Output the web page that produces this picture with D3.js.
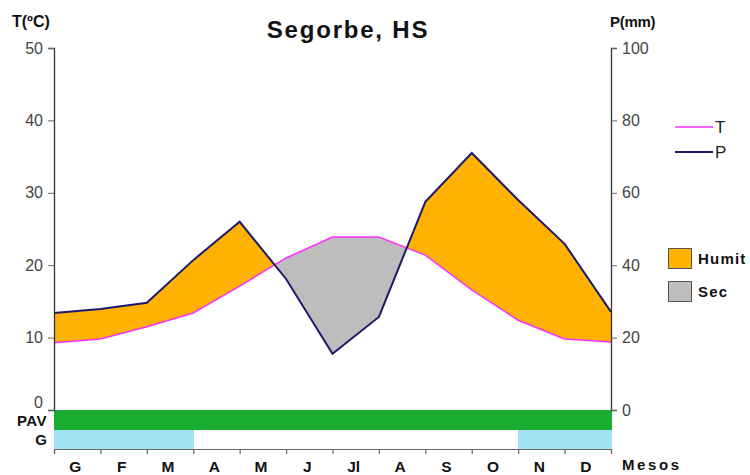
<!DOCTYPE html>
<html>
<head>
<meta charset="utf-8">
<script src="https://cdn.jsdelivr.net/npm/d3@7"></script>
<style>
  body { margin: 0; background: #fff; }
  svg { font-family: "Liberation Sans", Arial, sans-serif; }
</style>
</head>
<body>
<svg id="chart" width="750" height="475"></svg>
<script>
// ---- data ----
const months = ["G","F","M","A","M","J","Jl","A","S","O","N","D"];
// 13 points: Jan..Dec plus closing point at the right edge
const temperature = [9.3, 9.8, 11.5, 13.4, 17.1, 21.0, 23.9, 23.9, 21.4, 16.6, 12.4, 9.8, 9.4];
const precipitation = [26.8, 27.9, 29.6, 41.4, 52.0, 36.2, 15.5, 25.7, 57.5, 71.0, 58.0, 45.9, 27.1];
const tTicks = [0, 10, 20, 30, 40, 50];
const pTicks = [0, 20, 40, 60, 80, 100];
const frostMonths = [1, 1, 1, 0, 0, 0, 0, 0, 0, 0, 1, 1]; // G row (light blue)
const pavMonths = [1, 1, 1, 1, 1, 1, 1, 1, 1, 1, 1, 1];   // PAV row (green)

const svg = d3.select("#chart");
const L = 54, R = 611, TOP = 48, BOT = 410;

const xPt = d3.scaleLinear().domain([0, 12]).range([L, R]);
const xBand = d3.scaleBand().domain(d3.range(12)).range([L, R]).padding(0);
const yT = d3.scaleLinear().domain([0, 50]).range([BOT, TOP]);
const yP = d3.scaleLinear().domain([0, 100]).range([BOT, TOP]);

const pts = temperature.map((t, i) => ({ i, t, p: precipitation[i] }));

// clip paths
const defs = svg.append("defs");
defs.append("clipPath").attr("id", "aboveT").append("path")
  .attr("d", d3.area().x(d => xPt(d.i)).y0(d => yT(d.t)).y1(0)(pts));
defs.append("clipPath").attr("id", "belowT").append("path")
  .attr("d", d3.area().x(d => xPt(d.i)).y0(d => yT(d.t)).y1(475)(pts));

const between = d3.area().x(d => xPt(d.i)).y0(d => yT(d.t)).y1(d => yP(d.p));
svg.append("path").attr("d", between(pts)).attr("fill", "#FFB200").attr("clip-path", "url(#aboveT)");
svg.append("path").attr("d", between(pts)).attr("fill", "#BDBDBD").attr("clip-path", "url(#belowT)");

// lines
svg.append("path").attr("d", d3.line().x(d => xPt(d.i)).y(d => yT(d.t))(pts))
  .attr("fill", "none").attr("stroke", "#FF2EFF").attr("stroke-width", 1.5);
svg.append("path").attr("d", d3.line().x(d => xPt(d.i)).y(d => yP(d.p))(pts))
  .attr("fill", "none").attr("stroke", "#1C1A6B").attr("stroke-width", 2);

// PAV and G bars
svg.selectAll("rect.pav").data(pavMonths).enter().append("rect")
  .attr("x", (d, i) => xBand(i)).attr("width", xBand.bandwidth() + 1)
  .attr("y", 410).attr("height", 20).attr("shape-rendering", "crispEdges")
  .attr("fill", d => d ? "#18AD30" : "none");
svg.selectAll("rect.g").data(frostMonths).enter().append("rect")
  .attr("x", (d, i) => xBand(i)).attr("width", xBand.bandwidth() + 1)
  .attr("y", 430).attr("height", 19).attr("shape-rendering", "crispEdges")
  .attr("fill", d => d ? "#A2E1F2" : "none");

// axes
const axisColor = "#333";
const leftAxis = svg.append("g").attr("transform", `translate(${L},0)`)
  .call(d3.axisLeft(yT).tickValues(tTicks).tickSize(6).tickPadding(5));
const rightAxis = svg.append("g").attr("transform", `translate(${R},0)`)
  .call(d3.axisRight(yP).tickValues(pTicks).tickSize(6).tickPadding(5));
[leftAxis, rightAxis].forEach(a => {
  a.select(".domain").attr("stroke", axisColor).attr("stroke-width", 1.3);
  a.selectAll(".tick line").attr("stroke", "#666");
  a.selectAll("text").attr("font-size", 16).attr("fill", "#444")
    .attr("font-family", "Liberation Sans, Arial, sans-serif");
});
leftAxis.selectAll(".tick").filter(d => d === 0).select("text").attr("dy", "-0.15em");

// bottom axis
const bottom = svg.append("g").attr("transform", `translate(0,449)`)
  .call(d3.axisBottom(xPt).tickValues(d3.range(13)).tickSize(5).tickFormat(""));
bottom.select(".domain").attr("stroke", "#666").attr("stroke-width", 1.2);
bottom.selectAll(".tick line").attr("stroke", "#666").attr("stroke-width", 1.2);

svg.selectAll("text.month").data(months).enter().append("text")
  .attr("x", (d, i) => xBand(i) + xBand.bandwidth() / 2 - 2)
  .attr("y", 472).attr("text-anchor", "middle")
  .attr("font-size", 15.5).attr("font-weight", "bold").attr("fill", "#111")
  .text(d => d);

// row labels
svg.append("text").attr("x", 47).attr("y", 426).attr("text-anchor", "end")
  .attr("font-size", 15).attr("font-weight", "bold").attr("fill", "#111")
  .attr("letter-spacing", 0.5).text("PAV");
svg.append("text").attr("x", 47).attr("y", 445).attr("text-anchor", "end")
  .attr("font-size", 15).attr("font-weight", "bold").attr("fill", "#111").text("G");

svg.append("text").attr("x", 622).attr("y", 470)
  .attr("font-size", 15).attr("font-weight", "bold").attr("fill", "#111")
  .attr("letter-spacing", 2.6).text("Mesos");

// title and axis titles
svg.append("text").attr("x", 348).attr("y", 38).attr("text-anchor", "middle")
  .attr("font-size", 24).attr("font-weight", "bold").attr("fill", "#111")
  .attr("letter-spacing", 1.8).text("Segorbe, HS");
svg.append("text").attr("x", 12).attr("y", 27)
  .attr("font-size", 16).attr("font-weight", "bold").attr("fill", "#111")
  .text("T(ºC)");
svg.append("text").attr("x", 610).attr("y", 27)
  .attr("font-size", 15).attr("font-weight", "bold").attr("fill", "#111")
  .attr("letter-spacing", -0.3).text("P(mm)");

// legend: lines
const lineLegend = [{ k: "T", c: "#FF2EFF", y: 127, w: 1.5 }, { k: "P", c: "#1C1A6B", y: 152, w: 2 }];
lineLegend.forEach(d => {
  svg.append("line").attr("x1", 675).attr("x2", 713).attr("y1", d.y).attr("y2", d.y)
    .attr("stroke", d.c).attr("stroke-width", d.w);
  svg.append("text").attr("x", 715).attr("y", d.y + 6).attr("font-size", 17)
    .attr("fill", "#222").text(d.k);
});
// legend: areas
const areaLegend = [{ k: "Humit", c: "#FFB200", y: 248 }, { k: "Sec", c: "#BDBDBD", y: 281 }];
areaLegend.forEach(d => {
  svg.append("rect").attr("x", 668.5).attr("y", d.y + 0.5).attr("width", 23).attr("height", 20)
    .attr("fill", d.c).attr("stroke", "#555").attr("stroke-width", 1);
  svg.append("text").attr("x", 698).attr("y", d.y + 16).attr("font-size", 15)
    .attr("font-weight", "bold").attr("fill", "#111").attr("letter-spacing", 1.2).text(d.k);
});
</script>
</body>
</html>
